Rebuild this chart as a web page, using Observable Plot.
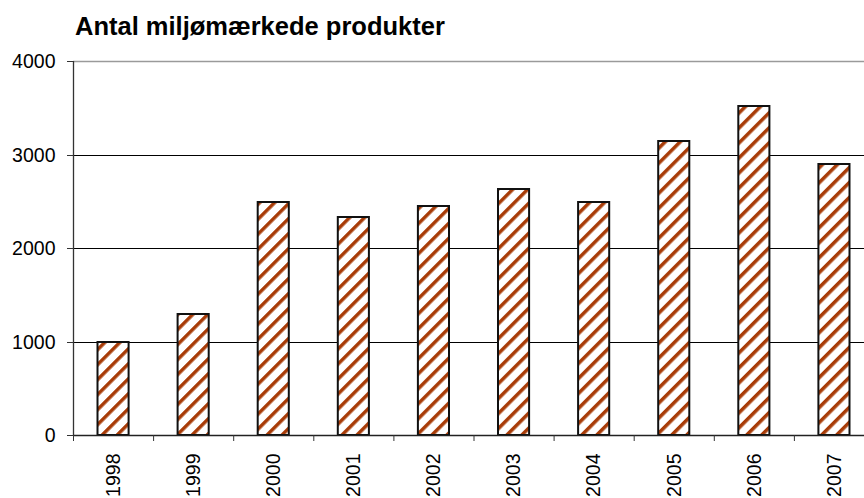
<!DOCTYPE html>
<html>
<head>
<meta charset="utf-8">
<script src="https://cdn.jsdelivr.net/npm/d3@7"></script>
<script src="https://cdn.jsdelivr.net/npm/@observablehq/plot@0.6"></script>
<style>
  html, body { margin: 0; padding: 0; background: white; }
  #title { height: 40px; box-sizing: border-box; padding: 14px 0 0 75px; font: bold 25.5px "Liberation Sans", Arial, sans-serif; line-height: 24px; color: #000; white-space: nowrap; }
  #chart svg { display: block; overflow: visible; }
</style>
</head>
<body>
<div id="title">Antal miljømærkede produkter</div>
<div id="chart"></div>
<script>
const years = ["1998","1999","2000","2001","2002","2003","2004","2005","2006","2007"];
const counts = [1000, 1290, 2490, 2330, 2450, 2630, 2490, 3140, 3515, 2900];
const yTicks = [0, 1000, 2000, 3000, 4000];
const gridValues = [1000, 2000, 3000];

const data = years.map((year, i) => ({year, i, value: counts[i]}));
const boundaries = d3.range(0, years.length + 1);
const centers = years.map((_, i) => i + 0.5);

const hatch = () => {
  const defs = d3.create("svg:defs");
  const p = defs.append("pattern")
    .attr("id", "hatch")
    .attr("patternUnits", "userSpaceOnUse")
    .attr("width", 10.6).attr("height", 10.6)
    .attr("patternTransform", "rotate(45)");
  p.append("rect").attr("width", 10.6).attr("height", 10.6).attr("fill", "white");
  p.append("rect").attr("width", 3.5).attr("height", 10.6).attr("fill", "#a83c08");
  return defs.node();
};

const chart = Plot.plot({
  width: 864,
  height: 458,
  marginTop: 21,
  marginBottom: 63,
  marginLeft: 73,
  marginRight: 0,
  style: {fontFamily: "'Liberation Sans', Arial, sans-serif", fontSize: "19.5px", color: "#000", background: "white"},
  x: {type: "linear", domain: [0, years.length], range: [73, 874]},
  y: {domain: [0, 4000], round: true},
  marks: [
    hatch,
    Plot.ruleY(gridValues, {stroke: "#000", strokeWidth: 1}),
    Plot.ruleY([4000], {stroke: "#9a9a9a", strokeWidth: 1.5}),
    Plot.rectY(data, {x1: "i", x2: d => d.i + 1, y: "value", insetLeft: 24.5, insetRight: 24.5, fill: "url(#hatch)", stroke: "#111", strokeWidth: 2}),
    Plot.ruleX([0], {stroke: "#333", strokeWidth: 1.3}),
    Plot.ruleY([0], {stroke: "#222", strokeWidth: 1.3}),
    Plot.axisY(yTicks, {tickSize: 6, tickPadding: 12, fontSize: 19.5, stroke: "#333", label: null, tickFormat: d => String(d)}),
    Plot.axisX(boundaries, {tickSize: 6, tickFormat: () => "", stroke: "#333", label: null}),
    Plot.axisX(centers, {tickSize: 0, tickPadding: 18, tickRotate: -90, fontSize: 19.5, label: null, tickFormat: d => years[Math.floor(d)]})
  ]
});
document.getElementById("chart").appendChild(chart);
</script>
</body>
</html>
